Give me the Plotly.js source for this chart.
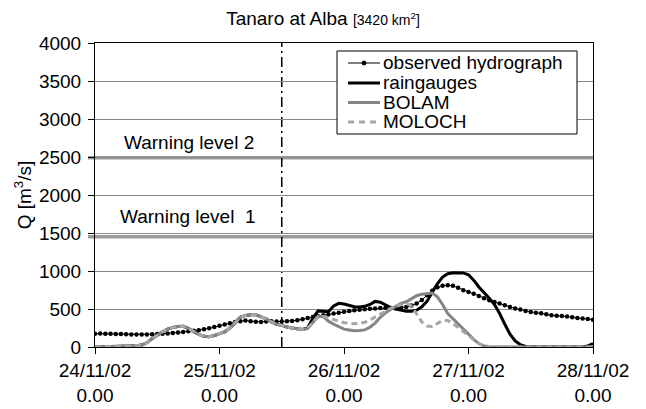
<!DOCTYPE html>
<html>
<head>
<meta charset="utf-8">
<script src="https://cdn.plot.ly/plotly-3.0.1.min.js"></script>
<style>html,body{margin:0;padding:0;background:#fff}#chart{width:646px;height:409px}</style>
</head>
<body>
<div id="chart"></div>
<script>
// time axis: hours since 24/11/02 0.00
const hours = [0,1,2,3,4,5,6,7,8,9,10,11,12,13,14,15,16,17,18,19,20,21,22,23,24,25,26,27,28,29,30,31,32,33,34,35,36,37,38,39,40,41,42,43,44,45,46,47,48,49,50,51,52,53,54,55,56,57,58,59,60,61,62,63,64,65,66,67,68,69,70,71,72,73,74,75,76,77,78,79,80,81,82,83,84,85,86,87,88,89,90,91,92,93,94,95,96];

const observed = [175,176,175,173,172,170,168,166,165,165,166,168,170,174,178,184,190,197,207,215,222,233,246,262,280,297,312,328,340,348,340,332,330,334,338,337,335,338,342,352,366,380,395,406,417,428,440,450,465,475,483,490,496,502,506,512,516,512,510,515,526,545,571,620,680,740,785,805,812,805,780,748,725,700,672,642,614,592,571,548,526,508,492,475,461,452,445,430,417,412,408,400,393,382,375,367,360];

const raingauges = [0,1,2,4,6,8,10,13,17,25,55,110,160,200,235,258,270,272,245,205,165,140,135,150,175,200,250,320,390,415,425,425,400,370,330,300,285,262,250,240,232,250,380,475,470,465,540,575,565,545,530,525,535,560,600,590,550,520,500,480,470,472,485,530,600,720,830,920,965,978,978,975,950,880,790,720,640,560,440,300,170,80,30,8,2,0,0,0,0,0,0,0,0,0,0,15,45];

const bolam = [0,1,2,4,6,8,10,13,17,25,55,110,160,200,235,258,270,272,245,205,165,140,135,150,175,200,250,320,390,415,425,425,400,370,330,300,285,262,250,240,232,245,330,400,400,340,300,265,235,225,215,218,225,260,315,390,450,495,540,575,595,640,675,695,705,710,660,560,440,370,300,230,165,100,45,15,3,0,0,0,0,0,0,0,0,0,0,0,0,0,0,0,0,0,0,0,0];

const moloch = [0,1,2,4,6,8,10,13,17,25,55,110,160,200,235,258,270,272,245,205,165,140,135,150,175,200,250,320,390,415,425,425,400,370,330,300,285,262,250,240,232,245,330,400,405,380,360,340,320,310,305,310,325,355,395,435,475,510,540,560,570,540,430,330,275,270,310,350,350,310,255,200,150,95,45,12,2,0,0,0,0,0,0,0,0,0,0,0,0,0,0,0,0,0,0,0,0];

const tickHours = [0,24,48,72,96];
const tickLabels = ['24/11/02<br>0.00','25/11/02<br>0.00','26/11/02<br>0.00','27/11/02<br>0.00','28/11/02<br>0.00'];
const seriesNames = ['observed hydrograph','raingauges','BOLAM','MOLOCH'];
const warningLevels = [1450, 2490];
const warningTexts = ['Warning level\u00a0 1','Warning level 2'];
const forecastStart = 36;

const FONT = 'Arial, "Liberation Sans", sans-serif';
const L = 95, R = 593, T = 43, B = 347;
const px = x => (x - L) / (R - L);
const py = y => (B - y) / (B - T);

const traces = [
  {x: hours, y: observed, name: seriesNames[0], mode: 'lines+markers',
   line: {color: '#000', width: 1}, marker: {color: '#000', size: 4.5}},
  {x: hours, y: raingauges, name: seriesNames[1], mode: 'lines',
   line: {color: '#000', width: 3}},
  {x: hours, y: bolam, name: seriesNames[2], mode: 'lines',
   line: {color: '#858585', width: 3}},
  {x: hours, y: moloch, name: seriesNames[3], mode: 'lines',
   line: {color: '#a6a6a6', width: 3, dash: '6px,4px'}}
];

const shapes = [];
// warning levels
warningLevels.forEach(v => shapes.push({type: 'line', xref: 'paper', yref: 'y', x0: -0.014, x1: 1, y0: v, y1: v,
  line: {color: '#9c9c9c', width: 3.5}, layer: 'below'}));
// forecast start
shapes.push({type: 'line', xref: 'x', yref: 'paper', x0: forecastStart, x1: forecastStart, y0: 0, y1: 1,
  line: {color: '#000', width: 1.5, dash: '10px,4px,2px,4px'}, layer: 'below'});
// legend box
shapes.push({type: 'rect', xref: 'paper', yref: 'paper', x0: px(337), x1: px(577), y0: py(134), y1: py(51),
  line: {color: '#000', width: 1}, fillcolor: '#fff'});
const rows = [63, 83, 102.5, 122];
const sampleStyles = [
  {color: '#000', width: 1},
  {color: '#000', width: 3},
  {color: '#858585', width: 3},
  {color: '#a6a6a6', width: 3, dash: '6px,5px'}
];
rows.forEach((r, i) => shapes.push({type: 'line', xref: 'paper', yref: 'paper', x0: px(348), x1: px(380),
  y0: py(r), y1: py(r), line: sampleStyles[i]}));
shapes.push({type: 'circle', xref: 'paper', yref: 'paper', x0: px(362), x1: px(366), y0: py(65), y1: py(61),
  line: {color: '#000', width: 1}, fillcolor: '#000'});

const annotations = [];
rows.forEach((r, i) => annotations.push({xref: 'paper', yref: 'paper', x: px(381), y: py(r), xanchor: 'left', yanchor: 'middle',
  text: seriesNames[i], showarrow: false, font: {family: FONT, size: 19, color: '#000'}}));
annotations.push({xref: 'x', yref: 'y', x: 4.4, y: 1711, xanchor: 'left', yanchor: 'middle', text: warningTexts[0],
  showarrow: false, font: {family: FONT, size: 19, color: '#000'}});
annotations.push({xref: 'x', yref: 'y', x: 5.2, y: 2697, xanchor: 'left', yanchor: 'middle', text: warningTexts[1],
  showarrow: false, font: {family: FONT, size: 19, color: '#000'}});

const layout = {
  width: 646, height: 409,
  margin: {l: L, r: 646 - R, t: T, b: 409 - B, pad: 0},
  paper_bgcolor: '#fff', plot_bgcolor: '#fff',
  font: {family: FONT, size: 19, color: '#000'},
  showlegend: false,
  title: {text: 'Tanaro at Alba <span style="font-size:14px">[3420 km<sup>2</sup>]</span>',
    xref: 'container', x: 0.5, xanchor: 'center', yref: 'container', y: 0.955, yanchor: 'middle',
    font: {family: FONT, size: 19, color: '#000'}},
  xaxis: {range: [0, 96], tickmode: 'array', tickvals: tickHours, ticktext: tickLabels,
    showgrid: false, zeroline: false, showline: true, linecolor: '#000', linewidth: 1, mirror: true,
    ticks: 'outside', ticklen: 6, tickcolor: '#000', tickfont: {family: FONT, size: 19}},
  yaxis: {range: [0, 4000], tickmode: 'linear', tick0: 0, dtick: 500,
    showgrid: true, gridcolor: '#8a8a8a', gridwidth: 1, zeroline: false,
    showline: true, linecolor: '#000', linewidth: 1, mirror: true,
    ticks: 'outside', ticklen: 6, tickcolor: '#000', ticklabelstandoff: 3, tickfont: {family: FONT, size: 19},
    title: {text: 'Q [m<sup>3</sup>/s]', font: {family: FONT, size: 19}, standoff: 2}},
  shapes: shapes,
  annotations: annotations
};

Plotly.newPlot('chart', traces, layout, {displayModeBar: false, staticPlot: true});
</script>
</body>
</html>
